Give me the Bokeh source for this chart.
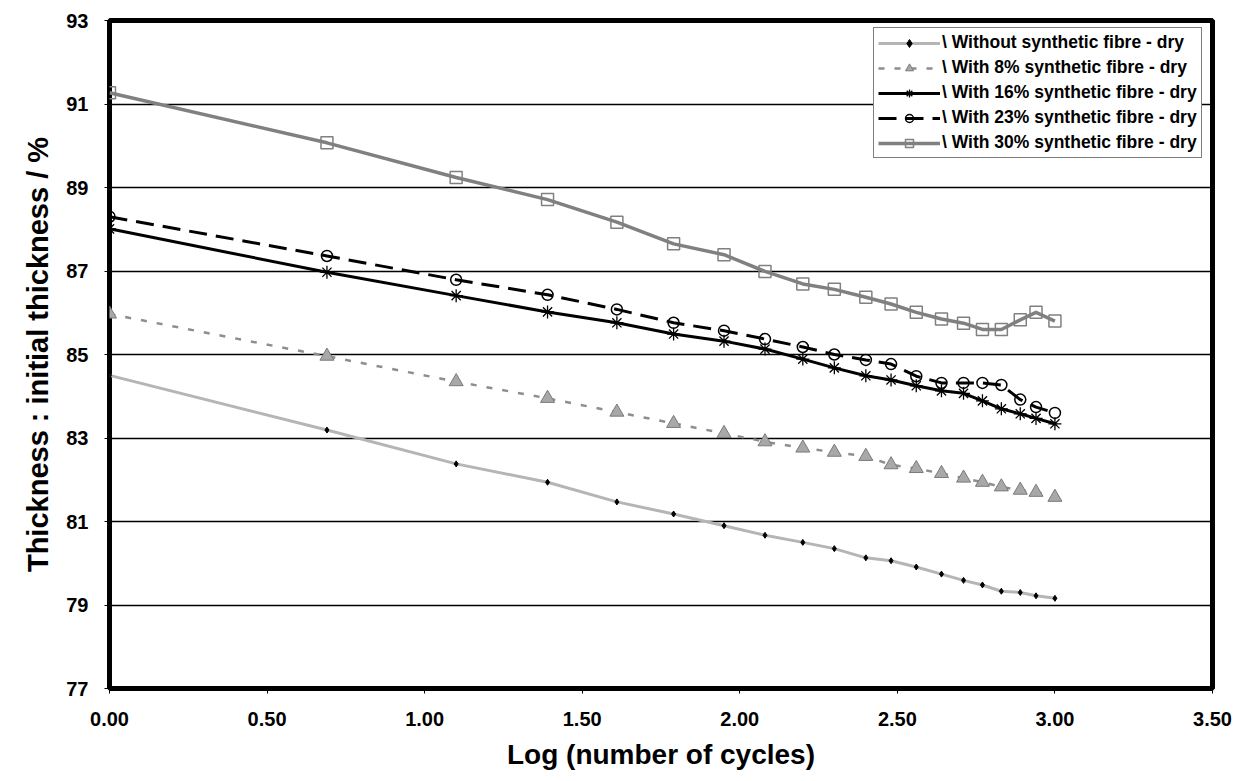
from bokeh.plotting import figure
from bokeh.models import Legend, LegendItem, FixedTicker, Range1d, NumeralTickFormatter
from bokeh.embed import file_html
from bokeh.resources import INLINE

# Data
log_cycles = [0.00, 0.69, 1.10, 1.39, 1.61, 1.79, 1.95, 2.08, 2.20, 2.30,
              2.40, 2.48, 2.56, 2.64, 2.71, 2.77, 2.83, 2.89, 2.94, 3.00]
without_fibre = [84.50, 83.19, 82.38, 81.94, 81.47, 81.18, 80.90, 80.67, 80.50, 80.35,
                 80.13, 80.06, 79.91, 79.74, 79.59, 79.48, 79.33, 79.30, 79.22, 79.16]
fibre_8 = [85.97, 84.96, 84.35, 83.95, 83.62, 83.35, 83.11, 82.91, 82.76, 82.66,
           82.56, 82.36, 82.27, 82.15, 82.04, 81.94, 81.83, 81.75, 81.70, 81.58]
fibre_16 = [88.01, 86.97, 86.41, 86.02, 85.76, 85.49, 85.32, 85.13, 84.89, 84.68,
            84.49, 84.39, 84.25, 84.13, 84.07, 83.89, 83.70, 83.58, 83.47, 83.34]
fibre_23 = [88.30, 87.36, 86.79, 86.43, 86.08, 85.76, 85.57, 85.37, 85.18, 85.00,
            84.87, 84.77, 84.48, 84.32, 84.32, 84.32, 84.27, 83.92, 83.74, 83.60]
fibre_30 = [91.27, 90.07, 89.24, 88.71, 88.17, 87.65, 87.39, 86.99, 86.69, 86.56,
            86.37, 86.21, 86.01, 85.85, 85.75, 85.60, 85.60, 85.83, 86.01, 85.80]

x_ticks = [0.0, 0.5, 1.0, 1.5, 2.0, 2.5, 3.0, 3.5]
y_ticks = [77, 79, 81, 83, 85, 87, 89, 91, 93]

labels = ["\\ Without synthetic fibre - dry",
          "\\ With 8% synthetic fibre - dry",
          "\\ With 16% synthetic fibre - dry",
          "\\ With 23% synthetic fibre - dry",
          "\\ With 30% synthetic fibre - dry"]

FONT = "Liberation Sans"

p = figure(width=1248, height=778, output_backend="svg", toolbar_location=None,
           x_range=Range1d(0, 3.5), y_range=Range1d(77, 93),
           min_border_left=109, min_border_right=36, min_border_top=20,
           min_border_bottom=90)

p.outline_line_color = "black"
p.outline_line_width = 5
p.background_fill_color = "white"
p.border_fill_color = "white"

p.xgrid.visible = False
p.ygrid.ticker = FixedTicker(ticks=y_ticks)
p.ygrid.grid_line_color = "black"
p.ygrid.grid_line_width = 1.6

for ax in (p.xaxis[0], p.yaxis[0]):
    ax.axis_line_color = None
    ax.major_tick_in = 0
    ax.major_tick_out = 5
    ax.major_tick_line_color = "black"
    ax.minor_tick_line_color = None
    ax.major_label_text_font = FONT
    ax.major_label_text_font_style = "bold"
    ax.major_label_text_font_size = "20px"
    ax.major_label_text_color = "black"
    ax.axis_label_text_font = FONT
    ax.axis_label_text_font_style = "bold"
    ax.axis_label_text_color = "black"

p.xaxis.ticker = FixedTicker(ticks=x_ticks)
p.xaxis.formatter = NumeralTickFormatter(format="0.00")
p.xaxis.major_label_standoff = 18
p.xaxis.axis_label = "Log (number of cycles)"
p.xaxis.axis_label_standoff = 10
p.xaxis.axis_label_text_font_size = "28px"

p.yaxis.ticker = FixedTicker(ticks=y_ticks)
p.yaxis.major_label_standoff = 16
p.yaxis.axis_label = "Thickness : initial thickness / %"
p.yaxis.axis_label_standoff = 9
p.yaxis.axis_label_text_font_size = "29px"

items = []

l0 = p.line(log_cycles, without_fibre, line_color="#b5b5b5", line_width=3)
m0 = p.scatter(log_cycles, without_fibre, marker="diamond", size=6,
               fill_color="black", line_color="black")
items.append(LegendItem(label=labels[0], renderers=[l0, m0]))

l1 = p.line(log_cycles, fibre_8, line_color="#8e8e8e", line_width=2.5, line_dash="6 10")
m1 = p.scatter(log_cycles, fibre_8, marker="triangle", size=14,
               fill_color="#a8a8a8", line_color="#7a7a7a", line_width=1)
items.append(LegendItem(label=labels[1], renderers=[l1, m1]))

l2 = p.line(log_cycles, fibre_16, line_color="black", line_width=3)
m2 = p.scatter(log_cycles, fibre_16, marker="asterisk", size=13,
               line_color="black", line_width=1.3)
items.append(LegendItem(label=labels[2], renderers=[l2, m2]))

l3 = p.line(log_cycles, fibre_23, line_color="black", line_width=3, line_dash="18 9")
m3 = p.scatter(log_cycles, fibre_23, marker="circle", size=11,
               fill_color=None, line_color="black", line_width=1.5)
items.append(LegendItem(label=labels[3], renderers=[l3, m3]))

l4 = p.line(log_cycles, fibre_30, line_color="#808080", line_width=3.5)
m4 = p.scatter(log_cycles, fibre_30, marker="square", size=12,
               fill_color=None, line_color="#808080", line_width=1.5)
items.append(LegendItem(label=labels[4], renderers=[l4, m4]))

legend = Legend(items=items, location=(764, 530))
legend.label_text_font = FONT
legend.label_text_font_style = "bold"
legend.label_text_font_size = "17.5px"
legend.label_text_color = "black"
legend.label_standoff = 2
legend.label_height = 20
legend.glyph_height = 20
legend.glyph_width = 62
legend.spacing = 4
legend.padding = 4
legend.margin = 0
legend.border_line_color = "black"
legend.border_line_width = 1.2
legend.background_fill_color = "white"
legend.background_fill_alpha = 1
p.add_layout(legend, "center")

open("out.html", "w").write(file_html(p, INLINE))
